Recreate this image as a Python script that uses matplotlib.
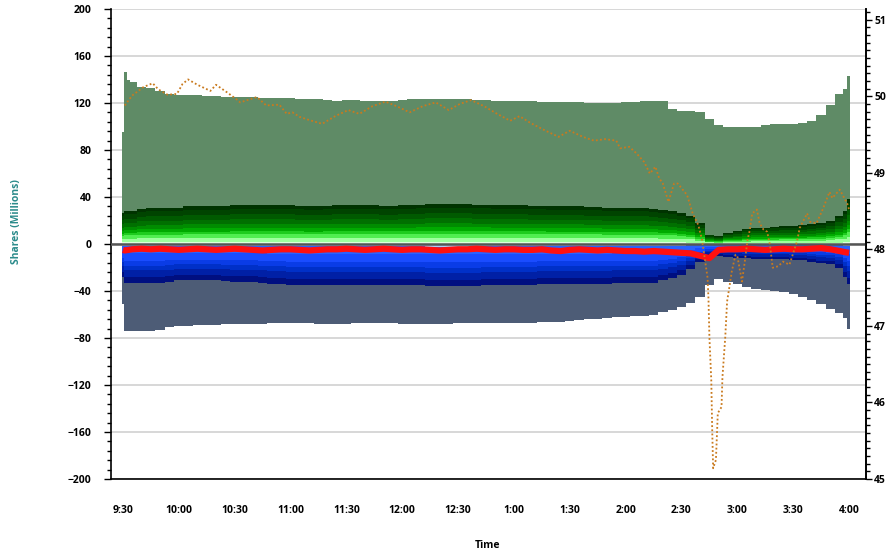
import numpy as np
import matplotlib
matplotlib.use('Agg')
import matplotlib.pyplot as plt
from matplotlib.ticker import MultipleLocator

plt.rcParams['font.family'] = ['Open Sans', 'DejaVu Sans']
plt.rcParams['font.weight'] = 'bold'

# ---------------- data (minutes after 9:30) ----------------
minutes = [0, 1, 3, 5, 10, 15, 20, 25, 30, 35, 40, 45, 50, 55, 60, 65, 70, 75, 80, 85,
           90, 95, 100, 105, 110, 115, 120, 125, 130, 135, 140, 145, 150, 155, 160, 165,
           170, 175, 180, 185, 190, 195, 200, 205, 210, 215, 220, 225, 230, 235, 240, 245,
           250, 255, 260, 265, 270, 275, 280, 285, 290, 295, 300, 305, 310, 315, 320, 325,
           330, 335, 340, 345, 350, 355, 360, 365, 370, 375, 380, 385, 388, 390]

pos_total = [95, 146, 140, 138, 134, 133, 130, 128, 127, 127, 126.5, 126, 126, 125.5, 125, 125,
             125, 124.5, 124, 124, 124, 123.5, 123, 123, 122.5, 122, 122.5, 122.5, 122, 122,
             122, 122, 122.5, 123, 123, 123.5, 123.5, 123, 123, 123, 122.5, 122.5, 122, 122,
             122, 121.5, 121.5, 121, 121, 121, 121, 120.5, 120, 120, 120, 120, 120.5, 121,
             122, 122, 121.5, 115, 113, 113, 112, 106, 101, 100, 99.5, 99.5, 100, 101, 102,
             102.5, 102.5, 103, 105, 110, 118, 128, 132, 143]

green_top = [26, 28, 28, 28, 30, 31, 31, 31, 31, 32, 32, 32, 32, 32, 33, 33, 33, 33, 33, 33,
             33, 32.5, 32, 32, 32.5, 33, 33, 33, 33, 33, 32.5, 32.5, 33, 33, 33.5, 34, 34, 34,
             34, 34, 33.5, 33.5, 33, 33, 33, 33, 32.5, 32.5, 32, 32, 32, 32, 31.5, 31.5, 31,
             31, 30.5, 30.5, 30.5, 30, 29, 28, 26, 24, 18, 8, 7, 9.5, 11, 13, 14, 14, 14.5,
             15, 15, 16, 17, 18, 20, 24, 28, 38]

blue_bottom = [-28, -33, -33, -33, -33, -33, -33, -32, -31, -31, -31, -31, -31, -31.5, -32,
               -32, -32, -33, -34, -34, -35, -35, -35, -35, -35, -35, -35, -35, -35, -35, -35,
               -35, -35, -35, -35, -36, -36, -36, -36, -36, -36, -35, -35, -35, -35, -35, -35,
               -34, -34, -34, -34, -34, -34, -34, -34, -33, -33, -33, -33, -33, -31, -29, -26,
               -21, -15, -10, -10, -11, -11.5, -12, -12.5, -13, -13, -13, -13.5, -14, -15,
               -16.5, -17, -20, -28, -34]

neg_total = [-51, -74, -74, -74, -74, -74, -73, -71, -70, -70, -69, -69, -69, -68.5, -68, -68,
             -68, -68, -67.5, -67.5, -67, -67, -67.5, -68, -68, -68.5, -68, -67.5, -67, -67,
             -67, -67.5, -68, -68, -68, -68.5, -68.5, -68, -67.5, -67, -67, -67, -67, -67.5,
             -67.5, -67, -67, -66.5, -66, -66, -65.5, -65, -64, -63.5, -63, -62.5, -62, -61.5,
             -61, -60, -58, -56, -54, -50, -45, -35, -30, -32, -34, -36.5, -38, -39, -40, -41,
             -42.5, -45, -48, -51, -55, -59, -63, -72]

red_level = [-5, -5.5, -5, -4.5, -4, -4.5, -4, -4.5, -5, -4.5, -4, -4.5, -5, -4.5, -4, -4.5,
             -5, -5.5, -5, -4.5, -4.5, -5, -5.5, -5, -4.5, -4.5, -4, -4.5, -5, -4.5, -4, -4.5,
             -5, -4.5, -4.5, -5, -5.5, -5, -4.5, -4.5, -4, -4.5, -5, -4.5, -4.5, -5, -5, -4.5,
             -5.5, -6, -5, -4.5, -5, -5.5, -5, -5.5, -6, -6, -6.5, -6, -6.5, -7, -7.5, -8, -10,
             -12, -5, -4.5, -4.5, -4, -4.5, -5, -4.5, -4, -4.5, -4.5, -4, -3.5, -4.5, -6, -7,
             -7.5]

# layer shares of the green (buy) and blue (sell) stacks, inner to outer
green_shares = [0.05, 0.11, 0.10, 0.07, 0.09, 0.10, 0.12, 0.13, 0.14, 0.09]
blue_shares = [0.06, 0.18, 0.19, 0.13, 0.12, 0.18, 0.14]

price_minutes = [1, 5, 11, 16, 19, 24, 29, 32, 35, 40, 47, 50, 56, 61, 63, 72, 77, 84, 88, 91,
                 95, 100, 107, 114, 121, 127, 134, 141, 147, 154, 161, 168, 175, 181, 187, 194,
                 201, 208, 213, 219, 227, 234, 240, 247, 253, 259, 265, 267, 272, 276, 280, 283,
                 286, 288, 290, 293, 296, 298, 303, 306, 309, 311, 314, 314.5, 315, 316, 316.5,
                 317, 318.5, 319.5, 321.5, 322, 323.5, 324.5, 326, 327, 329, 330, 332.5, 334,
                 335.5, 336.5, 338, 340.5, 342, 344, 346, 347.5, 349, 352, 354.5, 358, 362,
                 363.5, 367.5, 369, 372.5, 376, 379.5, 381, 385, 389, 390]
price_values = [49.88, 50.01, 50.12, 50.17, 50.09, 50.02, 50.03, 50.16, 50.22, 50.15, 50.07,
                50.15, 50.05, 49.96, 49.92, 49.99, 49.88, 49.89, 49.77, 49.79, 49.73, 49.69,
                49.64, 49.74, 49.82, 49.77, 49.87, 49.93, 49.87, 49.79, 49.87, 49.92, 49.82,
                49.90, 49.95, 49.87, 49.77, 49.68, 49.74, 49.65, 49.55, 49.47, 49.55, 49.47,
                49.42, 49.44, 49.42, 49.32, 49.34, 49.25, 49.14, 48.99, 49.08, 48.93, 48.86,
                48.62, 48.86, 48.86, 48.71, 48.47, 48.32, 48.13, 47.63, 47.35, 46.85, 46.29,
                45.64, 45.14, 45.25, 45.86, 45.94, 46.33, 46.85, 47.32, 47.55, 47.71, 47.93,
                47.91, 47.58, 47.84, 48.13, 48.23, 48.47, 48.52, 48.34, 48.26, 48.23, 48.06,
                47.76, 47.78, 47.84, 47.80, 48.10, 48.28, 48.47, 48.36, 48.34, 48.53, 48.75,
                48.67, 48.78, 48.60, 48.52]

tick_minutes = [0, 30, 60, 90, 120, 150, 180, 210, 240, 270, 300, 330, 360, 390]
tick_labels = ['9:30', '10:00', '10:30', '11:00', '11:30', '12:00', '12:30', '1:00', '1:30',
               '2:00', '2:30', '3:00', '3:30', '4:00']

# ---------------- styles ----------------
GREY_GREEN = '#5f8b66'
SLATE = '#4d5c76'
green_colors = ['#dcffdc', '#9dff9d', '#50ee50', '#1ecc1e', '#00aa00', '#008c00',
                '#007000', '#005a00', '#004400', '#003300']
blue_colors = ['#b0ccf8', '#2a62ff', '#1a4cff', '#0a3ce6', '#0030c8', '#0020a6', '#000f80']
PRICE_COLOR = '#c97a1e'

fig = plt.figure(figsize=(8.88, 5.58), dpi=100)
ax = fig.add_axes([111 / 888, 79 / 558, 755 / 888, 470 / 558])

t = np.array(minutes, dtype=float)
edges = np.concatenate([[t[0] - 0.5], (t[:-1] + t[1:]) / 2, [t[-1] + 0.5]])
left = edges[:-1]
width = np.diff(edges)

pt = np.array(pos_total, dtype=float)
gt = np.array(green_top, dtype=float)
bb = np.array(blue_bottom, dtype=float)
nt = np.array(neg_total, dtype=float)

ax.bar(left, pt, width, align='edge', color=GREY_GREEN, linewidth=0, zorder=2)
ax.bar(left, nt, width, align='edge', color=SLATE, linewidth=0, zorder=2)

gcum = np.concatenate([[0], np.cumsum(green_shares)])
for i, c in enumerate(green_colors):
    ax.bar(left, gt * green_shares[i], width, bottom=gt * gcum[i], align='edge',
           color=c, linewidth=0, zorder=3)
bcum = np.concatenate([[0], np.cumsum(blue_shares)])
for i, c in enumerate(blue_colors):
    ax.bar(left, bb * blue_shares[i], width, bottom=bb * bcum[i], align='edge',
           color=c, linewidth=0, zorder=3)

ax.plot(t, red_level, color='#ff1010', lw=4.5, zorder=5, solid_capstyle='butt')
ax.axhline(0, color='#555555', lw=1.8, zorder=4)

ax.set_xlim(-6.4, 399.1)
ax.set_ylim(-200, 200)
ax.yaxis.set_major_locator(MultipleLocator(40))
ax.yaxis.set_minor_locator(MultipleLocator(8))
ax.yaxis.grid(True, color='#d4d4d4', lw=1.3)
ax.set_axisbelow(True)
ax.set_xticks(tick_minutes)
ax.set_xticklabels(tick_labels)
ax.tick_params(axis='x', length=0, pad=19, labelsize=7.5)
ax.tick_params(axis='y', which='major', length=5, width=1, pad=9, labelsize=7.5)
ax.tick_params(axis='y', which='minor', length=3, width=1)
for lab in ax.get_xticklabels() + ax.get_yticklabels():
    lab.set_fontweight('bold')
ax.spines['top'].set_visible(False)
for s in ['left', 'bottom', 'right']:
    ax.spines[s].set_linewidth(1.2)
    ax.spines[s].set_color('black')

ax2 = ax.twinx()
ax2.plot(price_minutes, price_values, color=PRICE_COLOR, lw=1.3, ls=(0, (1, 1.3)), zorder=6)
ax2.set_ylim(45, 51.14)
ax2.yaxis.set_major_locator(MultipleLocator(1))
ax2.yaxis.set_minor_locator(MultipleLocator(0.1))
ax2.tick_params(axis='y', which='major', length=4.5, width=1, pad=1.5, labelsize=7.5)
ax2.tick_params(axis='y', which='minor', length=3, width=1)
for lab in ax2.get_yticklabels():
    lab.set_fontweight('bold')
ax2.spines['top'].set_visible(False)
ax2.spines['left'].set_visible(False)
ax2.spines['bottom'].set_visible(False)
ax2.spines['right'].set_linewidth(1.2)

fig.text(17 / 888, 1 - 222 / 558, 'Shares (Millions)', rotation=90, color='#2b8b8b',
         fontsize=7.5, fontweight='bold', ha='center', va='center')
fig.text(487 / 888, 1 - 546 / 558, 'Time', color='black', fontsize=7.5,
         fontweight='bold', ha='center', va='center')

fig.savefig('out.png', dpi=100)
